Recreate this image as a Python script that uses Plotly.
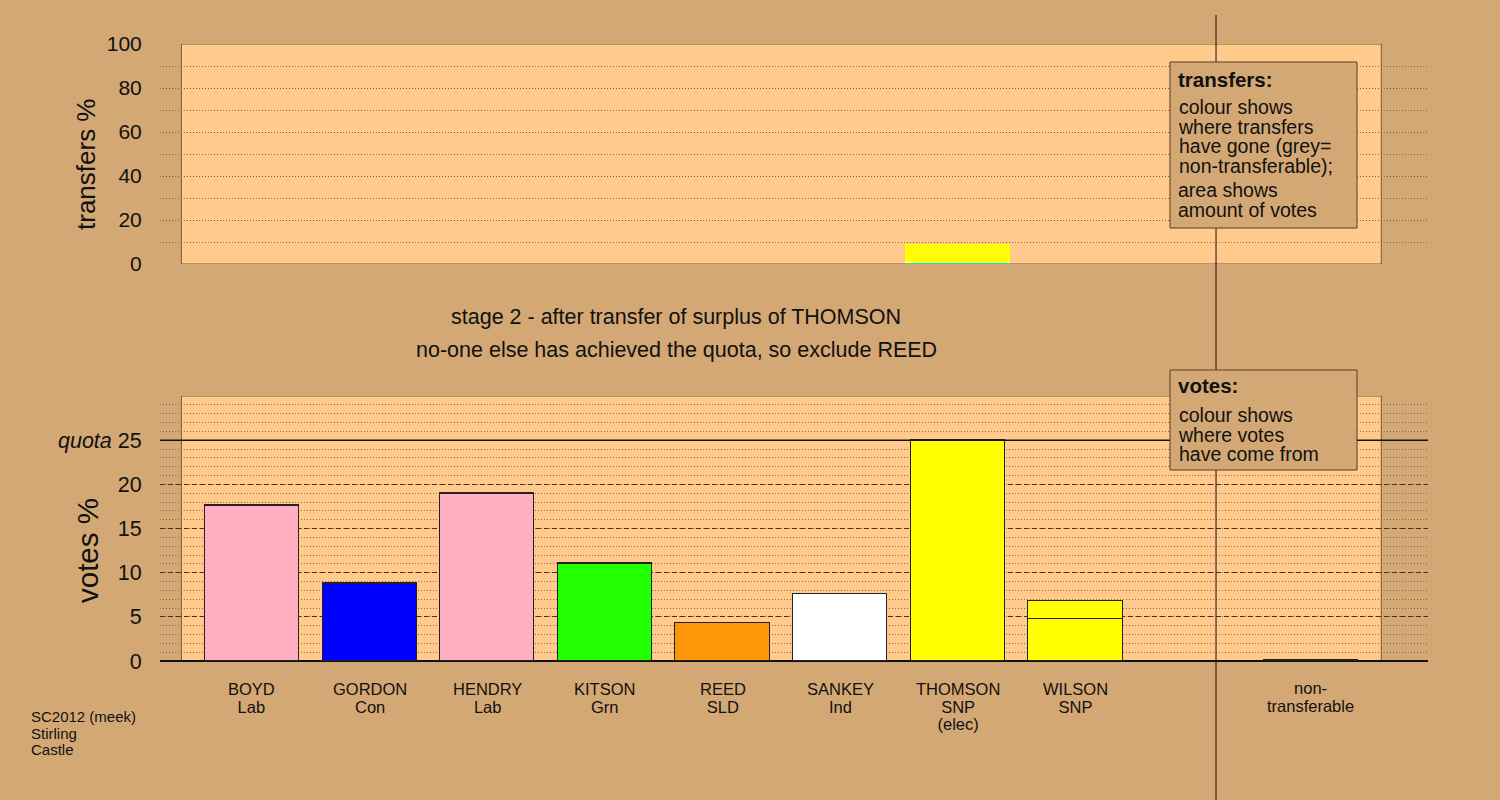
import plotly.graph_objects as go

# ---------------- data ----------------
candidates = ["BOYD", "GORDON", "HENDRY", "KITSON", "REED", "SANKEY", "THOMSON", "WILSON"]
parties = ["Lab", "Con", "Lab", "Grn", "SLD", "Ind", "SNP", "SNP"]
extra_line = ["", "", "", "", "", "", "(elec)", ""]
cand_colors = ["#ffafc1", "#0000ff", "#ffafc1", "#22ff00", "#ff960a", "#ffffff", "#ffff00", "#ffff00"]
cand_pos = [0, 1, 2, 3, 4, 5, 6, 7]

# votes % held before this transfer (Thomson capped at quota)
votes_before = [17.55, 8.75, 18.9, 10.95, 4.25, 7.55, 25.0, 4.75]
# votes % received from Thomson's surplus
votes_received = [0.1, 0.05, 0.1, 0.12, 0.03, 0.05, 0.0, 2.04]

nontrans_pos = 9
nontrans_label = ["non-", "transferable"]
nontrans_votes = 0.15

quota = 25.0

# top panel: transfers of Thomson's surplus (%), by destination
transfer_from_pos = 6
transfer_dest = ["KITSON", "SANKEY", "WILSON"]
transfer_pct = [0.8, 0.3, 8.0]
transfer_colors = ["#22ff00", "#ffffff", "#ffff00"]

top_ticks = [0, 20, 40, 60, 80, 100]
bottom_ticks = [0, 5, 10, 15, 20, 25]
bottom_ticktext = ["0", "5", "10", "15", "20", "<i>quota</i> 25"]

title_lines = ["stage 2 - after transfer of surplus of THOMSON",
               "no-one else has achieved the quota, so exclude REED"]
footnote = ["SC2012 (meek)", "Stirling", "Castle"]
transfers_key = ["colour shows", "where transfers", "have gone (grey=", "non-transferable);"]
transfers_key2 = ["area shows", "amount of votes"]
votes_key = ["colour shows", "where votes", "have come from"]

# ---------------- styling ----------------
W, H = 1500, 800
PAPER = "#d4a874"
BOX = "#ffca8c"
FONT = "Liberation Sans, Arial, sans-serif"
DOT = "rgba(125,90,55,0.85)"
DASH = "#4a3018"
DOTDASH = "1px,2px"
DASHDASH = "5px,3px"

def px(x):
    return x / W

def py(y):
    return 1 - y / H

xdom = [px(160), px(1428)]
xrange_ = [-0.782, 9.997]

fig = go.Figure()

# bottom panel bars
fig.add_trace(go.Bar(
    x=cand_pos, y=votes_before, width=0.8,
    marker=dict(color=cand_colors, line=dict(color="#222", width=1)),
    xaxis="x2", yaxis="y2", showlegend=False, hoverinfo="skip"))
fig.add_trace(go.Bar(
    x=cand_pos + [nontrans_pos], y=votes_received + [nontrans_votes], width=0.8,
    marker=dict(color=["#ffff00"] * len(cand_pos) + ["#888888"], line=dict(color="#222", width=1)),
    xaxis="x2", yaxis="y2", showlegend=False, hoverinfo="skip"))

# top panel transfers
for d, v, c in zip(transfer_dest, transfer_pct, transfer_colors):
    fig.add_trace(go.Bar(
        x=[transfer_from_pos], y=[v], width=0.89, name=d,
        marker=dict(color=c, line=dict(width=0)),
        xaxis="x", yaxis="y", showlegend=False, hoverinfo="skip"))

shapes = [
    dict(type="rect", xref="x", yref="y", x0=-0.6, x1=9.6, y0=0, y1=100,
         fillcolor=BOX, line=dict(color="#7a5a3a", width=1), layer="below"),
    dict(type="rect", xref="x2", yref="y2", x0=-0.6, x1=9.6, y0=0, y1=30,
         fillcolor=BOX, line=dict(color="#7a5a3a", width=1), layer="below"),
    dict(type="line", xref="x2 domain", yref="y2", x0=0, x1=1, y0=quota, y1=quota,
         line=dict(color="#111", width=1.5)),
    dict(type="line", xref="x2", yref="paper", x0=8.195, x1=8.195, y0=0, y1=py(15),
         line=dict(color="#111", width=1)),
    dict(type="rect", xref="paper", yref="paper", x0=px(1170), x1=px(1357), y0=py(228), y1=py(62),
         fillcolor=PAPER, line=dict(color="#5a3c20", width=1)),
    dict(type="rect", xref="paper", yref="paper", x0=px(1170), x1=px(1357), y0=py(470), y1=py(370),
         fillcolor=PAPER, line=dict(color="#5a3c20", width=1)),
]

annotations = []

def block(lines, x, y_first, size, spacing, xanchor="center", xref="paper", bold=False):
    """multi-line text in one annotation; line spacing set by base font size"""
    base = spacing / 1.3
    parts = []
    for l in lines:
        t = f"<b>{l}</b>" if bold else l
        parts.append(f'<span style="font-size:{size}px">{t}</span>')
    ycenter = y_first + spacing * (len(lines) - 1) / 2
    annotations.append(dict(text="<br>".join(parts), x=x, y=py(ycenter), xref=xref, yref="paper",
                            showarrow=False, xanchor=xanchor, yanchor="middle",
                            align=xanchor if xanchor != "center" else "center",
                            font=dict(family=FONT, size=base, color="#111")))

# category labels
for i, (c, p, e) in enumerate(zip(candidates, parties, extra_line)):
    lines = [c, p] + ([e] if e else [])
    block(lines, cand_pos[i], 689, 16.5, 17.5, xref="x2")
block(nontrans_label, nontrans_pos, 688, 16.5, 18, xref="x2")

# titles
block([title_lines[0]], px(676), 317, 21.5, 28)
block([title_lines[1]], px(676), 350, 21.5, 28)

# footnote
block(footnote, px(29), 716, 15, 16.5, xanchor="left")

# legend texts
block(["transfers:"], px(1176), 79, 20.5, 24, xanchor="left", bold=True)
block(transfers_key, px(1176), 107, 19.5, 19.5, xanchor="left")
block(transfers_key2, px(1176), 190, 19.5, 19.5, xanchor="left")
block(["votes:"], px(1176), 386, 20.5, 24, xanchor="left", bold=True)
block(votes_key, px(1176), 415, 19.5, 19.5, xanchor="left")

# axis titles
annotations.append(dict(text="transfers %", x=px(86), y=py(164), xref="paper", yref="paper",
                        xanchor="center", yanchor="middle",
                        showarrow=False, textangle=-90, font=dict(family=FONT, size=26, color="#111")))
annotations.append(dict(text="votes %", x=px(87), y=py(551), xref="paper", yref="paper",
                        xanchor="center", yanchor="middle",
                        showarrow=False, textangle=-90, font=dict(family=FONT, size=29.5, color="#111")))

common_x = dict(domain=xdom, range=xrange_, showticklabels=False, showgrid=False,
                zeroline=False, showline=False, ticks="", automargin=False, fixedrange=True)

fig.update_layout(
    template="none",
    width=W, height=H,
    margin=dict(l=0, r=0, t=0, b=0, pad=0, autoexpand=False),
    paper_bgcolor=PAPER, plot_bgcolor=PAPER,
    barmode="stack", bargap=0,
    font=dict(family=FONT, color="#111"),
    shapes=shapes, annotations=annotations,
    xaxis=dict(anchor="y", **common_x),
    xaxis2=dict(anchor="y2", **common_x),
    yaxis=dict(domain=[py(264), py(44)], range=[0, 100], anchor="x", automargin=False, fixedrange=True,
               tickmode="array", tickvals=top_ticks,
               tickfont=dict(size=21, family=FONT, color="#111"),
               ticks="outside", ticklen=13, tickcolor="rgba(0,0,0,0)",
               showgrid=True, gridcolor=DOT, griddash=DOTDASH, gridwidth=1,
               minor=dict(tickmode="linear", tick0=0, dtick=10, showgrid=True,
                          gridcolor=DOT, griddash=DOTDASH, gridwidth=1, ticks=""),
               zeroline=False, showline=False),
    yaxis2=dict(domain=[py(661), py(396)], range=[0, 30], anchor="x2", automargin=False, fixedrange=True,
                tickmode="array", tickvals=bottom_ticks, ticktext=bottom_ticktext,
                tickfont=dict(size=21.5, family=FONT, color="#111"),
                ticks="outside", ticklen=13, tickcolor="rgba(0,0,0,0)",
                showgrid=True, gridcolor=DASH, griddash=DASHDASH, gridwidth=1,
                minor=dict(tickmode="linear", tick0=0, dtick=1, showgrid=True,
                           gridcolor=DOT, griddash=DOTDASH, gridwidth=1, ticks=""),
                zeroline=True, zerolinecolor="#111", zerolinewidth=1.5, showline=False),
)

fig.write_html("out.html", config={"displayModeBar": False},
               post_script="document.body.style.margin='0';document.body.style.overflow='hidden';")
